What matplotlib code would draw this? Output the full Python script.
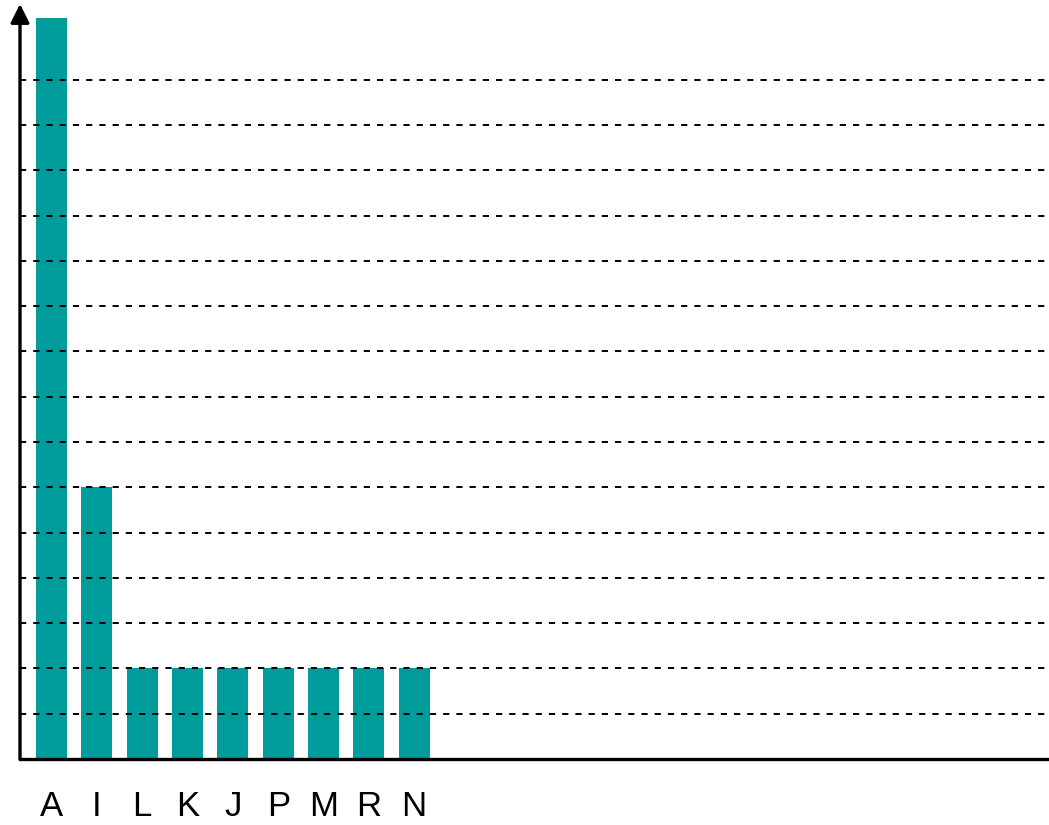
import matplotlib
matplotlib.use("Agg")
import matplotlib.pyplot as plt

categories = ["A", "I", "L", "K", "J", "P", "M", "R", "N"]
values = [16.35, 6, 2, 2, 2, 2, 2, 2, 2]
grid_levels = list(range(1, 16))

bar_color = "#009B9B"

fig = plt.figure(figsize=(10.49, 8.25), dpi=100)
ax = fig.add_axes([20 / 1049, 66 / 825, 1029 / 1049, 755 / 825])

x = list(range(len(categories)))
ax.bar(x, values, width=0.685, color=bar_color, zorder=1)

ax.set_xlim(-0.695, 22.0)
ax.set_ylim(0, 16.67)

for g in grid_levels:
    ax.axhline(g, color="black", linewidth=1.4, linestyle=(0, (3.2, 3.6)), zorder=2)

ax.set_xticks(x)
ax.set_xticklabels(categories, fontsize=25, family="Liberation Sans")
ax.tick_params(axis="x", length=0, pad=22)
ax.set_yticks([])

for s in ["top", "right", "left"]:
    ax.spines[s].set_visible(False)
ax.spines["bottom"].set_linewidth(2.4)
ax.spines["bottom"].set_zorder(3)

ax.annotate("", xy=(0, 1.0), xytext=(0, 0), xycoords="axes fraction",
            textcoords="axes fraction",
            arrowprops=dict(arrowstyle="-|>", color="black", lw=2.4,
                            mutation_scale=28, shrinkA=0, shrinkB=0),
            annotation_clip=False, zorder=4)

fig.savefig("out.png", dpi=100)
